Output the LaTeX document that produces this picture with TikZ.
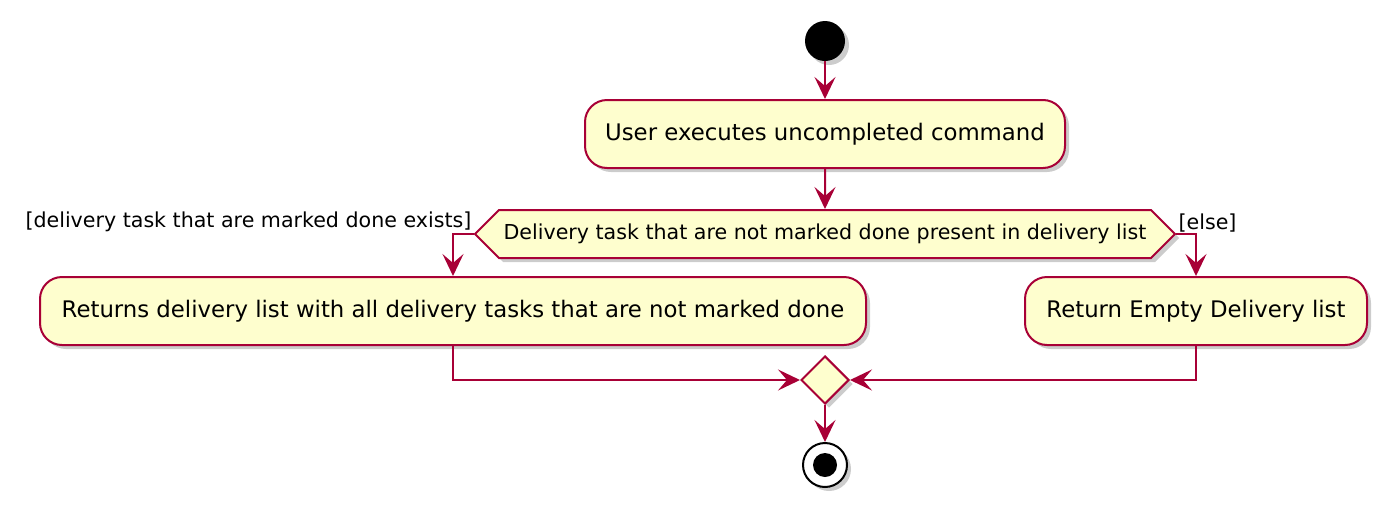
\documentclass[tikz,border=0pt]{standalone}
\usepackage{fontspec}
\setmainfont{DejaVu Sans}
\usetikzlibrary{shapes.geometric,shapes.symbols,shadows,arrows.meta}

\definecolor{umlred}{HTML}{A80036}
\definecolor{umlfill}{HTML}{FEFECE}

\begin{document}
\begin{tikzpicture}[x=1pt,y=-1pt,
		flow/.style={draw=umlred,line width=2pt,-{Stealth[length=22pt,width=21pt,inset=9pt]}},
		act/.style={draw=umlred,fill=umlfill,line width=2pt,rounded corners=22pt,
			minimum height=68pt,inner sep=0pt,font=\fontsize{22.8}{27}\selectfont,
			drop shadow={shadow xshift=4pt,shadow yshift=-4pt,fill=black!40}},
		guard/.style={font=\fontsize{20.6}{24}\selectfont,inner sep=2pt}
	]
		\useasboundingbox (0,0) rectangle (1400,520);

		\node[circle,fill=black,minimum size=40pt,inner sep=0pt,
			drop shadow={shadow xshift=4pt,shadow yshift=-4pt,fill=black!40}] (start) at (825,41) {};

		\node[act,minimum width=480pt] (act1) at (825,134) {User executes uncompleted command};

		\node[signal,signal to=west and east,signal pointer angle=90,draw=umlred,fill=umlfill,
			line width=2pt,minimum width=700pt,minimum height=48pt,inner sep=0pt,
			font=\fontsize{20.6}{24}\selectfont,
			drop shadow={shadow xshift=4pt,shadow yshift=-4pt,fill=black!40}] (choice) at (825,234)
			{Delivery task that are not marked done present in delivery list};

		\node[act,minimum width=826pt] (act2) at (453,311) {Returns delivery list with all delivery tasks that are not marked done};
		\node[act,minimum width=342pt] (act3) at (1196,311) {Return Empty Delivery list};

		\node[diamond,draw=umlred,fill=umlfill,line width=2pt,minimum width=48pt,minimum height=48pt,inner sep=0pt,
			drop shadow={shadow xshift=4pt,shadow yshift=-4pt,fill=black!40}] (merge) at (825,380) {};

		\node[circle,draw=black,fill=white,line width=2pt,minimum size=44pt,inner sep=0pt,
			drop shadow={shadow xshift=4pt,shadow yshift=-4pt,fill=black!40}] (stop) at (825,465) {};
		\fill[black] (stop.center) circle (12pt);

		% guards
		\node[guard,anchor=south east] at (choice.west) {[delivery task that are marked done exists]};
		\node[guard,anchor=south west] at (choice.east) {[else]};

		\draw[flow] (start) -- (act1);
		\draw[flow] (act1) -- (choice);
		\draw[flow] (choice.west) -| (act2.north);
		\draw[flow] (choice.east) -| (act3.north);
		\draw[flow] (act2.south) |- (merge.west);
		\draw[flow] (act3.south) |- (merge.east);
		\draw[flow] (merge) -- (stop);
	\end{tikzpicture}
\end{document}
